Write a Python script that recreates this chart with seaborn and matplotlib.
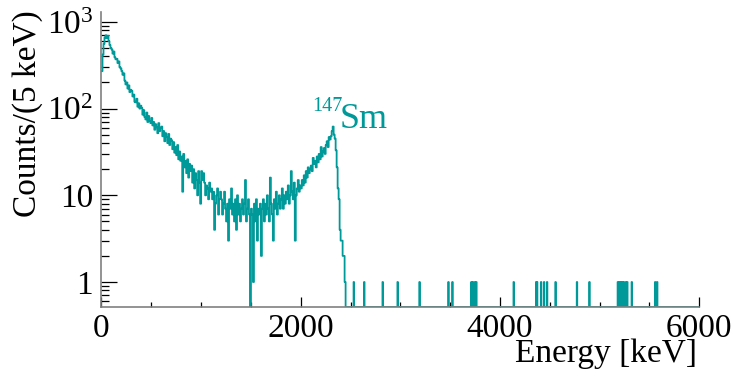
import numpy as np
import matplotlib
matplotlib.use("Agg")
import matplotlib.pyplot as plt
import matplotlib.ticker as mticker
import seaborn as sns

# ---- data (counts per 5 keV) ----
# main region 0-2500 keV, one value per 10 keV step
main_counts = [
    270, 420, 560, 660, 700, 650, 690, 600, 540, 500,
    480, 430, 455, 390, 370, 375, 335, 350, 300, 290,
    270, 245, 255, 210, 190, 200, 170, 185, 155, 165,
    160, 138, 145, 120, 118, 130, 105, 115, 100, 108,
    102, 85, 96, 80, 75, 90, 70, 82, 72, 68,
    78, 64, 70, 57, 66, 61, 52, 68, 55, 60,
    62, 48, 55, 42, 52, 47, 40, 51, 38, 45,
    43, 34, 41, 31, 36, 29, 38, 26, 32, 25,
    28, 11, 30, 21, 25, 18, 26, 16, 23, 19,
    22, 14, 20, 12, 18, 15, 10, 19, 14, 8,
    19, 15, 18, 14, 10, 13, 12, 9, 14, 11,
    12, 9, 11, 4, 8, 10, 12, 6, 9, 11,
    9, 6, 8, 11, 7, 5, 8, 3, 9, 7,
    12, 6, 8, 5, 9, 4, 10, 6, 8, 5,
    7, 9, 6, 8, 15, 5, 7, 9, 6, 0,
    7, 6, 1, 8, 5, 9, 3, 7, 6, 8,
    2, 7, 9, 5, 8, 6, 10, 7, 5, 16,
    8, 6, 3, 9, 7, 11, 6, 8, 10, 7,
    9, 12, 7, 10, 8, 11, 9, 13, 8, 10,
    19, 11, 9, 14, 3, 10, 12, 15, 11, 13,
    12, 15, 13, 17, 14, 19, 16, 21, 18, 20,
    22, 19, 27, 23, 25, 21, 28, 24, 30, 26,
    36, 28, 32, 35, 30, 38, 42, 36, 47, 44,
    48, 55, 62, 50, 45, 33, 21, 12, 9, 4,
    3, 3, 2, 2, 1, 0, 0, 0, 0, 0,
]
main_step = 10      # keV
main_end = 2500     # keV
# single-count events above 2500 keV (5 keV bins)
tail_energies = [2530, 2635, 2820, 2970, 3190, 3480, 3520, 3710, 3727, 3747,
                 3760, 4137, 4360, 4370, 4410, 4440, 4470, 4557, 4770, 4897,
                 5180, 5195, 5210, 5225, 5240, 5260, 5275, 5320, 5557, 5577]
tail_step = 5
x_max = 6000

x_ticks = [0, 2000, 4000, 6000]
y_ticks = [1, 10, 100, 1000]
y_ticklabels = ["1", "10", r"$\mathregular{10^{2}}$", r"$\mathregular{10^{3}}$"]

# ---- build histogram ----
main_edges = np.arange(0, main_end + main_step, main_step)
tail_edges = np.arange(main_end, x_max + tail_step, tail_step)
tail_counts = np.zeros(len(tail_edges) - 1)
for e in tail_energies:
    tail_counts[int((e - main_end) // tail_step)] += 1
edges = np.concatenate([main_edges, tail_edges[1:]])
counts = np.concatenate([np.array(main_counts, float), tail_counts])

ymin, ymax = 0.515, 1300
plot_counts = np.where(counts > 0, counts, ymin)
yy = np.append(plot_counts, plot_counts[-1])

# ---- style ----
sns.set_style("white")
plt.rcParams["font.family"] = ["Liberation Serif", "DejaVu Serif"]
plt.rcParams["mathtext.fontset"] = "custom"
plt.rcParams["mathtext.rm"] = "Liberation Serif"
plt.rcParams["mathtext.it"] = "Liberation Serif:italic"
plt.rcParams["text.color"] = "black"

teal = "#009999"
fig = plt.figure(figsize=(7.34, 3.71), dpi=100)
ax = fig.add_axes([101.5 / 734, 1 - 307 / 371, (699.3 - 101.5) / 734, (307 - 12) / 371])
ax.set_yscale("log")

sns.lineplot(x=edges, y=yy, drawstyle="steps-post", estimator=None, sort=False,
             color=teal, linewidth=1.3, ax=ax)

ax.set_xlim(0, x_max)
ax.set_ylim(ymin, ymax)
ax.set_xticks(x_ticks)
ax.set_xticklabels([str(t) for t in x_ticks])
ax.xaxis.set_minor_locator(mticker.MultipleLocator(500))
ax.set_yticks(y_ticks)
ax.set_yticklabels(y_ticklabels)
ax.yaxis.set_minor_locator(mticker.LogLocator(base=10, subs=np.arange(2, 10)))
ax.yaxis.set_minor_formatter(mticker.NullFormatter())

ax.tick_params(axis="both", which="both", direction="in", color="black", width=0.9,
               labelsize=24, labelcolor="black", bottom=True, left=True,
               top=False, right=False)
ax.tick_params(axis="y", which="major", length=11.5, pad=6)
ax.tick_params(axis="y", which="minor", length=5.5)
ax.tick_params(axis="x", which="major", length=7.2, pad=5)
ax.tick_params(axis="x", which="minor", length=3.6)

for s in ["top", "right"]:
    ax.spines[s].set_visible(False)
for s in ["left", "bottom"]:
    ax.spines[s].set_color("#808080")
    ax.spines[s].set_linewidth(1.2)
ax.set_xlabel("")
ax.set_ylabel("")

fig.text(697 / 734, 1 - 362 / 371, "Energy [keV]", ha="right", va="baseline", fontsize=24)
fig.text(28 / 734, 1 - 10 / 371, "Counts/(5 keV)", ha="center", va="top",
         rotation=90, fontsize=24)
fig.text(312 / 734, 1 - 111 / 371, "147", ha="left", va="baseline", fontsize=14.5, color=teal)
fig.text(340 / 734, 1 - 128 / 371, "Sm", ha="left", va="baseline", fontsize=26, color=teal)

fig.savefig("out.png", dpi=100)
